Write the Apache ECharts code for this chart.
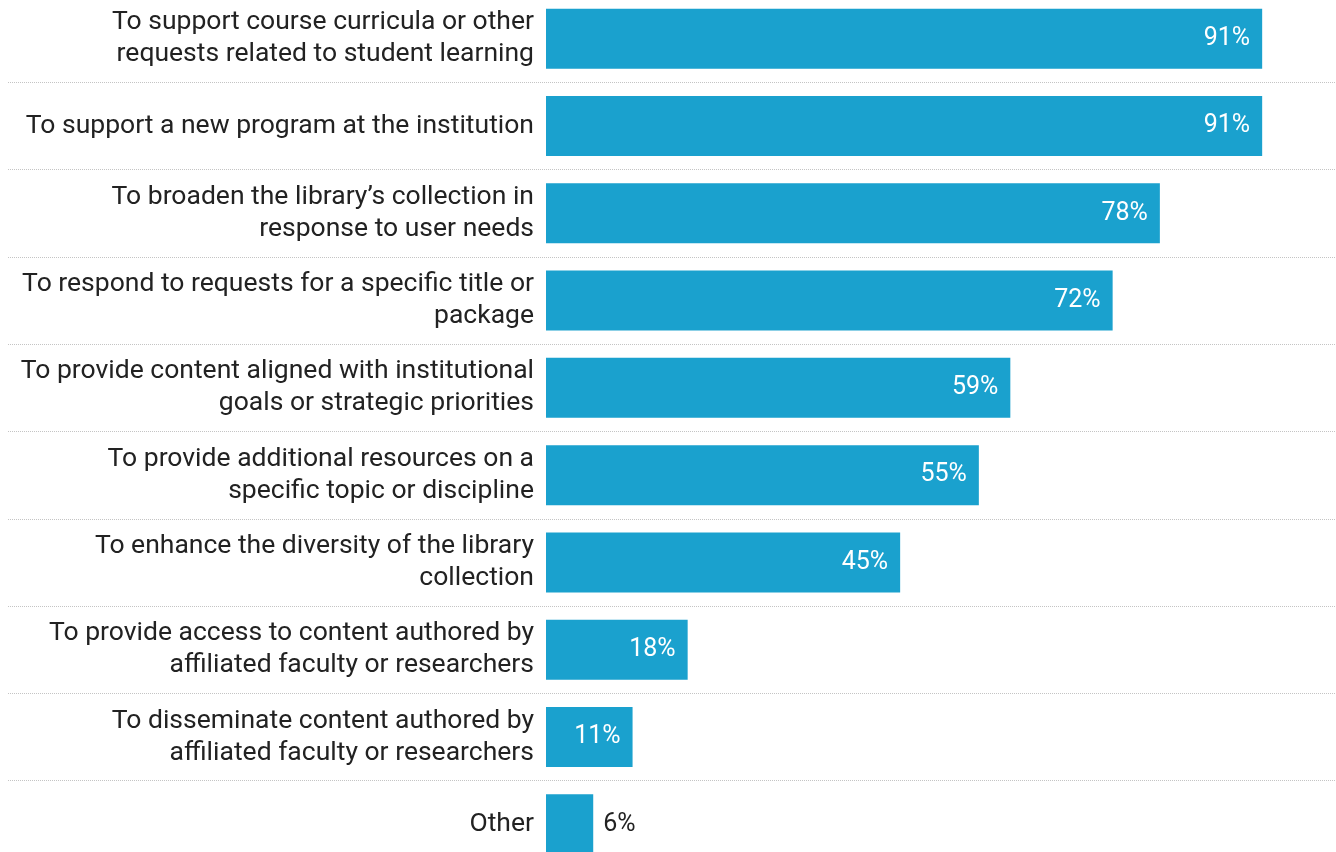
<!DOCTYPE html>
<html>
<head>
<meta charset="utf-8">
<title>Reasons for acquiring content</title>
<script src="https://cdn.jsdelivr.net/npm/echarts@6/dist/echarts.min.js"></script>
<style>
  html, body { margin: 0; padding: 0; background: #ffffff; }
  #chart { width: 1336px; height: 852px; }
</style>
</head>
<body>
<div id="chart"></div>
<script>
// Reasons listed top to bottom; line breaks are where the labels wrap.
const categories = [
  'To support course curricula or other\nrequests related to student learning',
  'To support a new program at the institution',
  'To broaden the library\u2019s collection in\nresponse to user needs',
  'To respond to requests for a specific title or\npackage',
  'To provide content aligned with institutional\ngoals or strategic priorities',
  'To provide additional resources on a\nspecific topic or discipline',
  'To enhance the diversity of the library\ncollection',
  'To provide access to content authored by\naffiliated faculty or researchers',
  'To disseminate content authored by\naffiliated faculty or researchers',
  'Other'
];

// Share of respondents, in percent.
const shares = [91, 91, 78, 72, 59, 55, 45, 18, 11, 6];

const barColor = '#1aa1ce';
const textColor = '#222222';
const fontFamily = 'Roboto, "Noto Sans", sans-serif';

// Grid spans the full width so the dotted row dividers run under the labels;
// the bars start at value zero, which sits LABEL_COLUMN px in from the grid edge.
const GRID_LEFT = 8;
const GRID_RIGHT = 0;
const LABEL_COLUMN = 538;
const PX_PER_UNIT = 7.87;
const CHART_WIDTH = 1336;
const xMin = -LABEL_COLUMN / PX_PER_UNIT;
const xMax = (CHART_WIDTH - GRID_LEFT - GRID_RIGHT - LABEL_COLUMN) / PX_PER_UNIT;

// Values too small to hold their label inside the bar get it outside.
const seriesData = shares.map(function (v) {
  if (v < 8) {
    return {
      value: v,
      label: { position: 'right', distance: 10, color: textColor }
    };
  }
  return v;
});

const chart = echarts.init(document.getElementById('chart'), null, { renderer: 'canvas' });

chart.setOption({
  animation: false,
  backgroundColor: '#ffffff',
  textStyle: { fontFamily: fontFamily },
  grid: {
    left: GRID_LEFT,
    right: GRID_RIGHT,
    top: -5,
    bottom: -16,
    containLabel: false,
    outerBoundsMode: 'none'
  },
  xAxis: {
    type: 'value',
    min: xMin,
    max: xMax,
    show: false
  },
  yAxis: {
    type: 'category',
    data: categories,
    inverse: true,
    position: 'left',
    // Move the axis (and its labels) right onto the zero line of the bars.
    offset: -LABEL_COLUMN,
    axisLine: { show: false, onZero: false },
    axisTick: { show: false },
    axisLabel: {
      margin: 12,
      fontSize: 26.5,
      lineHeight: 32,
      color: textColor,
      align: 'right',
      padding: [8, 0, 0, 0],
      fontFamily: fontFamily
    },
    splitLine: {
      show: true,
      lineStyle: { color: '#c4c4c4', width: 1, type: [1, 1] }
    }
  },
  series: [{
    type: 'bar',
    data: seriesData,
    barWidth: 60,
    itemStyle: { color: barColor },
    label: {
      show: true,
      position: 'insideRight',
      distance: 12,
      formatter: '{c}%',
      color: '#ffffff',
      fontSize: 25,
      padding: [5, 0, 0, 0],
      fontFamily: fontFamily
    }
  }]
});
</script>
</body>
</html>
